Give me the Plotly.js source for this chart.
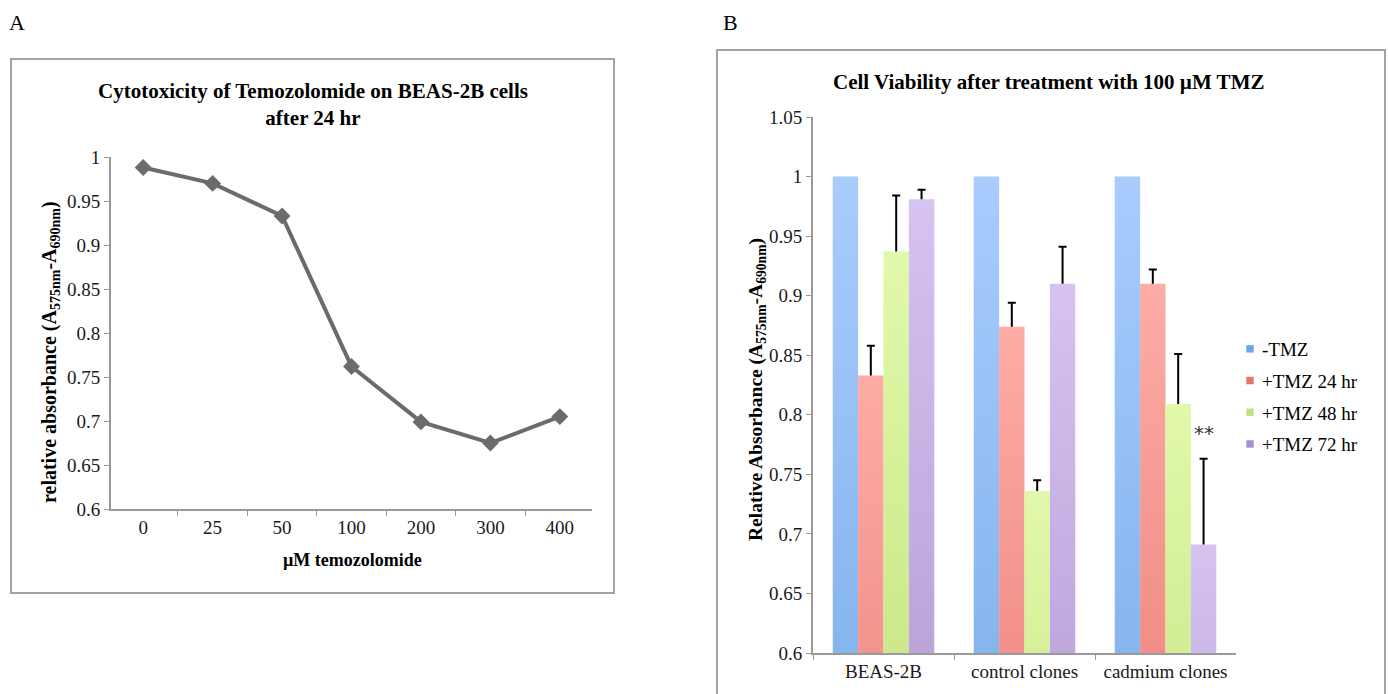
<!DOCTYPE html>
<html>
<head>
<meta charset="utf-8">
<script src="https://cdn.plot.ly/plotly-3.0.1.min.js"></script>
<style>html,body{margin:0;padding:0;background:#fff;}#chart{width:1388px;height:694px;}</style>
</head>
<body>
<div id="chart"></div>
<script>
// ---- Panel A data ----
const doseLabels = ["0", "25", "50", "100", "200", "300", "400"];
const absorbanceA = [0.988, 0.970, 0.933, 0.762, 0.699, 0.675, 0.705];
const yTicksA = [0.6, 0.65, 0.7, 0.75, 0.8, 0.85, 0.9, 0.95, 1];
const yTickTextA = ["0.6", "0.65", "0.7", "0.75", "0.8", "0.85", "0.9", "0.95", "1"];

// ---- Panel B data ----
const groupsB = ["BEAS-2B", "control clones", "cadmium clones"];
const seriesNames = ["-TMZ", "+TMZ 24 hr", "+TMZ 48 hr", "+TMZ 72 hr"];
const noTMZ = [1.0, 1.0, 1.0];
const tmz24 = [0.833, 0.874, 0.910];
const tmz48 = [0.937, 0.736, 0.809];
const tmz72 = [0.981, 0.910, 0.691];
const err24 = [0.025, 0.020, 0.012];
const err48 = [0.047, 0.009, 0.042];
const err72 = [0.008, 0.031, 0.072];
const yTicksB = [0.6, 0.65, 0.7, 0.75, 0.8, 0.85, 0.9, 0.95, 1, 1.05];
const yTickTextB = ["0.6", "0.65", "0.7", "0.75", "0.8", "0.85", "0.9", "0.95", "1", "1.05"];

const legendColors = ["#6ea5e8", "#e8756d", "#c2e184", "#a78fcf"];
const gradStops = [
  ["#a9ccfd", "#5292d8"],
  ["#fdaca6", "#d9534a"],
  ["#e1f9aa", "#a7cb55"],
  ["#d6c3f0", "#9273ba"]
];

const W = 1388, H = 694;
const px = x => x / W;
const py = y => 1 - y / H;

const serif = "Liberation Serif";
const tickFont = {family: serif, size: 19, color: "#1a1a1a"};
const axisGrey = "#9a9a9a";

const traces = [];
traces.push({
  type: "scatter", mode: "lines+markers",
  x: doseLabels, y: absorbanceA, xaxis: "x", yaxis: "y",
  line: {color: "#6b6b6b", width: 4},
  marker: {symbol: "diamond", size: 13, color: "#6b6b6b"},
  showlegend: false, hoverinfo: "skip"
});

const valsB = [noTMZ, tmz24, tmz48, tmz72];
const errsB = [null, err24, err48, err72];
for (let i = 0; i < 4; i++) {
  const t = {
    type: "bar", name: seriesNames[i], x: groupsB, y: valsB[i],
    xaxis: "x2", yaxis: "y2", legendgroup: "g" + i,
    marker: {color: legendColors[i], line: {width: 0}},
    hoverinfo: "skip"
  };
  if (errsB[i]) {
    t.error_y = {type: "data", symmetric: false, array: errsB[i],
      arrayminus: errsB[i].map(() => 0), color: "#000", thickness: 2, width: 4};
  }
  traces.push(t);
}

const axisCommon = {
  showgrid: false, zeroline: false, showline: true, linecolor: axisGrey, linewidth: 2,
  ticks: "outside", ticklen: 5, tickcolor: axisGrey, tickwidth: 1,
  tickfont: tickFont, fixedrange: true
};

const layout = {
  width: W, height: H,
  margin: {l: 0, r: 0, t: 0, b: 0},
  paper_bgcolor: "#fff", plot_bgcolor: "rgba(0,0,0,0)",
  showlegend: true,
  barmode: "group", bargap: 0.28, bargroupgap: 0,
  font: {family: serif, color: "#000"},
  xaxis: Object.assign({domain: [px(111), px(592)], anchor: "y", type: "category", tickson: "boundaries"}, axisCommon),
  yaxis: Object.assign({domain: [py(509), py(157)], anchor: "x", range: [0.6, 1.0],
    tickvals: yTicksA, ticktext: yTickTextA}, axisCommon),
  xaxis2: Object.assign({domain: [px(813), px(1236)], anchor: "y2", type: "category", tickson: "boundaries"}, axisCommon),
  yaxis2: Object.assign({domain: [py(653), py(117)], anchor: "x2", range: [0.6, 1.05],
    tickvals: yTicksB, ticktext: yTickTextB}, axisCommon),
  legend: {
    x: px(1222), y: py(330), xanchor: "left", yanchor: "top",
    font: {family: serif, size: 19, color: "#000"},
    traceorder: "grouped", tracegroupgap: 4, itemwidth: 30,
    bgcolor: "rgba(0,0,0,0)"
  },
  shapes: [
    {type: "rect", xref: "paper", yref: "paper", x0: px(11), x1: px(614), y0: py(593), y1: py(59),
      line: {color: "#a3a3a3", width: 2}, fillcolor: "rgba(0,0,0,0)", layer: "below"},
    {type: "rect", xref: "paper", yref: "paper", x0: px(717), x1: px(1385), y0: -0.1, y1: py(50),
      line: {color: "#a3a3a3", width: 2}, fillcolor: "rgba(0,0,0,0)", layer: "below"}
  ],
  annotations: [
    {text: "A", xref: "paper", yref: "paper", x: px(7), y: py(22), xanchor: "left", yanchor: "middle",
      showarrow: false, font: {family: serif, size: 22, color: "#000"}},
    {text: "B", xref: "paper", yref: "paper", x: px(721), y: py(22), xanchor: "left", yanchor: "middle",
      showarrow: false, font: {family: serif, size: 22, color: "#000"}},
    {text: "Cytotoxicity of Temozolomide on BEAS-2B cells<br>after 24 hr", xref: "paper", yref: "paper",
      x: px(313), y: py(105), xanchor: "center", yanchor: "middle", showarrow: false,
      font: {family: serif, size: 21, color: "#000", weight: "bold"}},
    {text: "Cell Viability after treatment with 100 µM TMZ", xref: "paper", yref: "paper",
      x: px(1048), y: py(82), xanchor: "center", yanchor: "middle", showarrow: false,
      font: {family: serif, size: 21, color: "#000", weight: "bold"}},
    {text: "relative absorbance (A<sub>575nm</sub>-A<sub>690nm</sub>)", xref: "paper", yref: "paper",
      x: px(50), y: py(352), xanchor: "center", yanchor: "middle", textangle: -90, showarrow: false,
      font: {family: serif, size: 20, color: "#000", weight: "bold"}},
    {text: "µM temozolomide", xref: "paper", yref: "paper",
      x: px(352), y: py(560), xanchor: "center", yanchor: "middle", showarrow: false,
      font: {family: serif, size: 18, color: "#000", weight: "bold"}},
    {text: "Relative Absorbance (A<sub>575nm</sub>-A<sub>690nm</sub>)", xref: "paper", yref: "paper",
      x: px(757), y: py(390), xanchor: "center", yanchor: "middle", textangle: -90, showarrow: false,
      font: {family: serif, size: 19.5, color: "#000", weight: "bold"}},
    {text: "**", xref: "x2", yref: "y2", x: "cadmium clones", y: 0.785, xshift: 38,
      xanchor: "center", yanchor: "middle", showarrow: false,
      font: {family: "DejaVu Sans", size: 20, color: "#333"}}
  ]
};

Plotly.newPlot("chart", traces, layout, {displayModeBar: false, staticPlot: true}).then(gd => {
  const svg = gd.querySelector(".main-svg");
  let defs = svg.querySelector("defs");
  const NS = "http://www.w3.org/2000/svg";
  if (!defs) { defs = document.createElementNS(NS, "defs"); svg.insertBefore(defs, svg.firstChild); }
  gradStops.forEach((st, i) => {
    const g = document.createElementNS(NS, "linearGradient");
    g.setAttribute("id", "barGrad" + i);
    g.setAttribute("x1", "0"); g.setAttribute("y1", "0");
    g.setAttribute("x2", "0"); g.setAttribute("y2", "1");
    [[0, st[0]], [1, st[1]]].forEach(([o, c]) => {
      const s = document.createElementNS(NS, "stop");
      s.setAttribute("offset", o); s.setAttribute("stop-color", c);
      g.appendChild(s);
    });
    defs.appendChild(g);
  });
  gd.querySelectorAll(".barlayer .trace").forEach((tr, i) => {
    tr.querySelectorAll(".point path").forEach(p => { p.style.fill = "url(#barGrad" + i + ")"; });
  });
  // remove the lower cap ("shoe") of one-sided error bars
  gd.querySelectorAll(".errorbar path.yerror").forEach(p => {
    const d = p.getAttribute("d");
    if (d) p.setAttribute("d", d.replace(/m-[\d.]+,0h[\d.]+\s*$/, ""));
  });
  // smaller legend squares, nearer the text
  gd.querySelectorAll(".legend .legendpoints path").forEach(p => {
    const prev = p.getAttribute("transform") || "";
    p.setAttribute("transform", (prev + " translate(8,0) scale(0.62)").trim());
  });
});
</script>
</body>
</html>
